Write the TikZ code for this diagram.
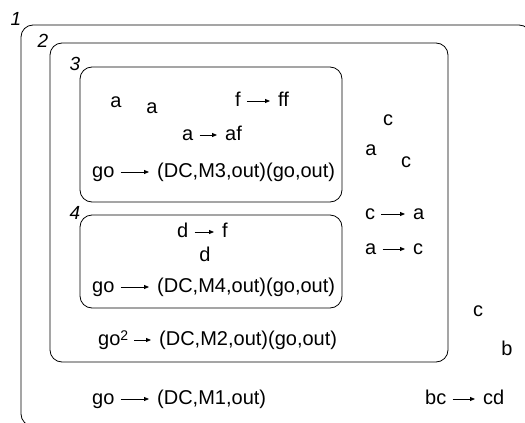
\documentclass[tikz,border=0pt]{standalone}
\usepackage{fontspec}
\setmainfont{Liberation Sans}
\usetikzlibrary{arrows.meta}

\begin{document}
\begin{tikzpicture}[x=1pt,y=-1pt,
    txt/.style={font=\fontsize{20}{24}\selectfont,inner sep=0pt,text height=14pt,text depth=4pt},
    num/.style={font=\fontsize{19}{23}\selectfont\itshape,inner sep=0pt},
    arr/.style={-{Triangle[length=5pt,width=4pt]},line width=0.8pt,shorten <=6pt,shorten >=8pt},
    box/.style={line width=0.8pt,rounded corners=12pt}]
\useasboundingbox (0,0) rectangle (525,423);
% nested regions
\begin{scope}
\clip (0,0) rectangle (525,423);
\draw[box] (21,25) rectangle (531,426);
\end{scope}
\draw[box] (50,43) rectangle (448,362);
\draw[box] (80,67) rectangle (342,202);
\draw[box] (80,215) rectangle (342,308);
\node[num] (n1) at (16,19) {1};
\node[num] (n2) at (43,41) {2};
\node[num] (n3) at (75,64) {3};
\node[num] (n4) at (75,213) {4};

% region 3
\node[txt] (a31) at (116,102) {a};
\node[txt] (a32) at (152,108) {a};
\node[txt,anchor=west] (f3) at (235,101) {f};
\node[txt,anchor=west] (ff3) at (278,101) {ff};
\draw[arr] (f3.east) -- (ff3.west);
\node[txt,anchor=west] (a33) at (182,135) {a};
\node[txt,anchor=west] (af3) at (225,135) {af};
\draw[arr] (a33.east) -- (af3.west);
\node[txt,anchor=west] (go3) at (92,172) {go};
\node[txt,anchor=west] (dc3) at (157,172) {(DC,M3,out)(go,out)};
\draw[arr] (go3.east) -- (dc3.west);

% region 4
\node[txt,anchor=west] (d41) at (177,232) {d};
\node[txt,anchor=west] (f4) at (222,232) {f};
\draw[arr] (d41.east) -- (f4.west);
\node[txt] (d42) at (205,256) {d};
\node[txt,anchor=west] (go4) at (92,287) {go};
\node[txt,anchor=west] (dc4) at (157,287) {(DC,M4,out)(go,out)};
\draw[arr] (go4.east) -- (dc4.west);

% region 2
\node[txt] (c21) at (388,120) {c};
\node[txt] (a21) at (371,150) {a};
\node[txt] (c22) at (406,162) {c};
\node[txt,anchor=west] (c23) at (365,214) {c};
\node[txt,anchor=west] (a22) at (413,214) {a};
\draw[arr] (c23.east) -- (a22.west);
\node[txt,anchor=west] (a23) at (365,249) {a};
\node[txt,anchor=west] (c24) at (413,249) {c};
\draw[arr] (a23.east) -- (c24.west);
\node[txt,anchor=west] (go2) at (98,340) {go\raisebox{5pt}{\fontsize{14}{14}\selectfont 2}};
\node[txt,anchor=west] (dc2) at (159,340) {(DC,M2,out)(go,out)};
\draw[arr] (go2.east) -- (dc2.west);

% region 1
\node[txt] (c11) at (478,311) {c};
\node[txt] (b11) at (507,350) {b};
\node[txt,anchor=west] (go1) at (92,399) {go};
\node[txt,anchor=west] (dc1) at (157,399) {(DC,M1,out)};
\draw[arr] (go1.east) -- (dc1.west);
\node[txt,anchor=west] (bc1) at (425,399) {bc};
\node[txt,anchor=west] (cd1) at (483,399) {cd};
\draw[arr] (bc1.east) -- (cd1.west);
\end{tikzpicture}
\end{document}
